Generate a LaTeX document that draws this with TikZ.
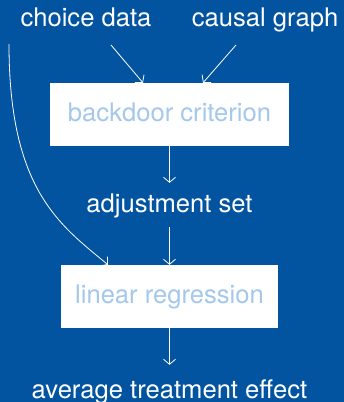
\documentclass[tikz,border=0pt]{standalone}
\usepackage{fontspec}
\setmainfont{TeX Gyre Heros}
\usetikzlibrary{arrows.meta}
\definecolor{bgblue}{RGB}{2,84,161}
\definecolor{softblue}{RGB}{164,199,236}
\begin{document}
\begin{tikzpicture}[x=1pt,y=-1pt,
  every node/.style={font=\fontsize{25.6}{30}\selectfont, inner sep=0pt,
                     text height=18pt, text depth=5pt},
  label/.style={text=white, anchor=base},
  stagebox/.style={fill=white, text=softblue},
  flow/.style={draw=white, line width=0.8pt,
               -{Straight Barb[length=5pt,width=12pt]}}]
  % background
  \fill[bgblue] (0,0) rectangle (344,402);
  \useasboundingbox (0,0) rectangle (344,402);

  % inputs
  \node[label] (cd) at (86,26) {choice data};
  \node[label] (cg) at (265,26) {causal graph};

  % processing stages and intermediate results
  \node[stagebox, minimum width=239pt, minimum height=63pt] (bd) at (169.5,114.5) {backdoor criterion};
  \node[label] (adj) at (169.5,212) {adjustment set};
  \node[stagebox, minimum width=217pt, minimum height=63pt] (lr) at (169.5,296.5) {linear regression};
  \node[label] (ate) at (169.5,398) {average treatment effect};

  % arrow tails below the inputs
  \coordinate (cdtail) at (111,45);
  \coordinate (cgtail) at (236,45);
  \coordinate (datatail) at (9,44);

  % connectors
  \draw[flow] (cdtail) -- ([xshift=-26.5]bd.north);
  \draw[flow] (cgtail) -- ([xshift=33.5]bd.north);
  \draw[flow, shorten >=11pt] (bd.south) -- (adj.north);
  \draw[flow, shorten <=10pt] (adj.south) -- (lr.north);
  \draw[flow, shorten >=15pt] (lr.south) -- (ate.north);
  \draw[flow] (datatail) .. controls (9,190) and (60,225) .. ([xshift=-61.5]lr.north);
\end{tikzpicture}
\end{document}
